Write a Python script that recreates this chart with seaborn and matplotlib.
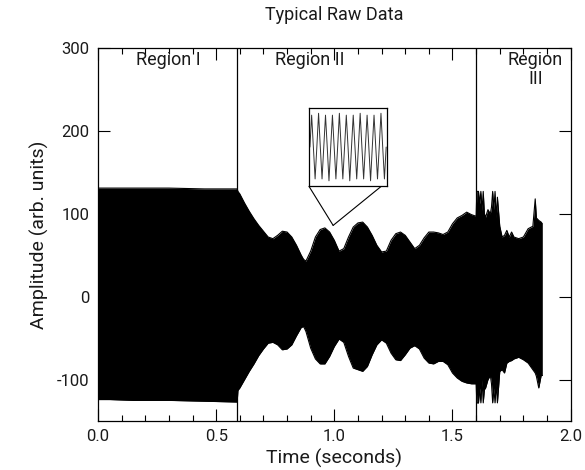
import matplotlib
matplotlib.use("Agg")
import matplotlib.pyplot as plt
import seaborn as sns
import pandas as pd
from matplotlib.ticker import MultipleLocator, FormatStrFormatter

# envelope of the raw signal (time in s, amplitude)
time_s = [0.0, 0.05, 0.15, 0.30, 0.45, 0.589,
          0.592, 0.60, 0.62, 0.64, 0.66, 0.68, 0.70, 0.72, 0.74, 0.76, 0.78, 0.80,
          0.82, 0.84, 0.86, 0.87, 0.88, 0.90, 0.92, 0.94, 0.96, 0.98, 1.00, 1.02,
          1.04, 1.06, 1.08, 1.10, 1.12, 1.14, 1.16, 1.18, 1.20, 1.22, 1.24, 1.26,
          1.28, 1.30, 1.32, 1.34, 1.36, 1.38, 1.40, 1.42, 1.44, 1.46, 1.48, 1.50,
          1.52, 1.54, 1.56, 1.58, 1.600,
          1.603, 1.61, 1.615, 1.62, 1.625, 1.63, 1.635, 1.64, 1.65, 1.66, 1.665,
          1.67, 1.675, 1.68, 1.685, 1.69, 1.70, 1.71, 1.72, 1.73, 1.74, 1.75, 1.76,
          1.78, 1.80, 1.82, 1.84, 1.85, 1.855, 1.865, 1.875, 1.88]
upper = [131, 131, 131, 131, 130, 130,
         127, 124, 113, 103, 94, 86, 79, 72, 70, 74, 79, 78,
         72, 62, 50, 45, 43, 55, 72, 81, 83, 78, 68, 55,
         58, 72, 84, 89, 90, 84, 74, 62, 54, 55, 68, 76,
         78, 74, 66, 58, 62, 71, 78, 78, 77, 75, 78, 88,
         95, 98, 102, 99, 97,
         127, 127, 112, 127, 104, 127, 100, 96, 105, 100, 108,
         127, 105, 127, 95, 120, 85, 72, 74, 80, 72, 78, 72,
         70, 72, 82, 85, 118, 95, 92, 90, 88]
lower = [-124, -124, -125, -125, -126, -127,
         -113, -110, -100, -90, -81, -71, -63, -56, -55, -58, -64, -63,
         -58, -47, -37, -36, -42, -62, -75, -81, -81, -72, -60, -51,
         -55, -72, -86, -88, -90, -84, -70, -58, -52, -56, -68, -76,
         -77, -70, -62, -59, -63, -74, -80, -81, -78, -78, -82, -92,
         -98, -102, -104, -105, -105,
         -128, -128, -110, -128, -100, -128, -112, -110, -100, -95, -105,
         -128, -110, -128, -105, -128, -90, -88, -92, -80, -78, -77, -75,
         -73, -76, -80, -88, -92, -96, -110, -95, -95]

# zoomed-in trace shown in the inset (quarter-cycle samples)
inset_wave = [0, 0.85, 0, -0.85, 0, 0.9, 0, -0.85, 0, 0.85, 0, -0.9, 0, 0.85,
              0, -0.85, 0, 0.9, 0, -0.85, 0, 0.85, 0, -0.9, 0, 0.85, 0, -0.85,
              0, 0.9, 0, -0.85, 0, 0.85, 0, -0.9, 0, 0.85, 0, -0.85, 0, 0.9,
              0, -0.85, 0]

region_bounds = [0.59, 1.60]
zoom_point = (0.995, 86)

df = pd.DataFrame({"time": time_s, "upper": upper, "lower": lower})
inset_df = pd.DataFrame({"i": range(len(inset_wave)), "v": inset_wave})

sns.set_theme(style="ticks")
plt.rcParams["font.family"] = ["Roboto", "DejaVu Sans"]
plt.rcParams["axes.unicode_minus"] = False

fig = plt.figure(figsize=(5.85, 4.70), dpi=100)
ax = fig.add_axes([0.1675, 0.104, 0.808, 0.794])

ax.fill_between(df["time"], df["lower"], df["upper"], color="black", lw=0)
sns.lineplot(data=df, x="time", y="upper", ax=ax, color="black", lw=0.8)
sns.lineplot(data=df, x="time", y="lower", ax=ax, color="black", lw=0.8)

for b in region_bounds:
    ax.axvline(b, color="black", lw=0.9)

ax.set_xlim(0, 2.0)
ax.set_ylim(-150, 300)
ax.xaxis.set_major_locator(MultipleLocator(0.5))
ax.xaxis.set_minor_locator(MultipleLocator(0.1))
ax.yaxis.set_major_locator(MultipleLocator(100))
ax.xaxis.set_major_formatter(FormatStrFormatter("%.1f"))
ax.tick_params(which="both", direction="in", top=True, right=True,
               color="black", labelcolor="#1a1a1a", labelsize=12)
ax.tick_params(which="major", length=8.5, width=0.8, pad=6)
ax.tick_params(which="minor", length=4, width=0.8)
for s in ax.spines.values():
    s.set_linewidth(0.9)
    s.set_color("black")

ax.set_xlabel("Time (seconds)", fontsize=14, color="#1a1a1a", labelpad=3)
ax.set_ylabel("Amplitude (arb. units)", fontsize=14, color="#1a1a1a", labelpad=6)
ax.set_title("Typical Raw Data", fontsize=13, color="#1a1a1a", pad=20)

txt = dict(ha="center", va="center", fontsize=13, color="#1a1a1a")
ax.text(0.297, 285, "Region I", **txt)
ax.text(0.897, 285, "Region II", **txt)
ax.text(1.85, 285, "Region", **txt)
ax.text(1.85, 263, "III", **txt)

# inset with the zoomed trace
inset_box = [0.893, 133, 0.33, 95]
axin = ax.inset_axes(inset_box, transform=ax.transData)
sns.lineplot(data=inset_df, x="i", y="v", ax=axin, color="#333333", lw=0.7)
axin.set_xlim(-0.5, len(inset_wave) - 0.5)
axin.set_ylim(-1.05, 1.05)
axin.set_xticks([])
axin.set_yticks([])
axin.set_xlabel("")
axin.set_ylabel("")
axin.set_facecolor("white")
for s in axin.spines.values():
    s.set_linewidth(0.9)
    s.set_color("black")

ax.plot([inset_box[0], zoom_point[0]], [inset_box[1], zoom_point[1]], color="black", lw=0.8)
ax.plot([inset_box[0] + 0.305, zoom_point[0]], [inset_box[1], zoom_point[1]], color="black", lw=0.8)

fig.savefig("out.png", dpi=100)
